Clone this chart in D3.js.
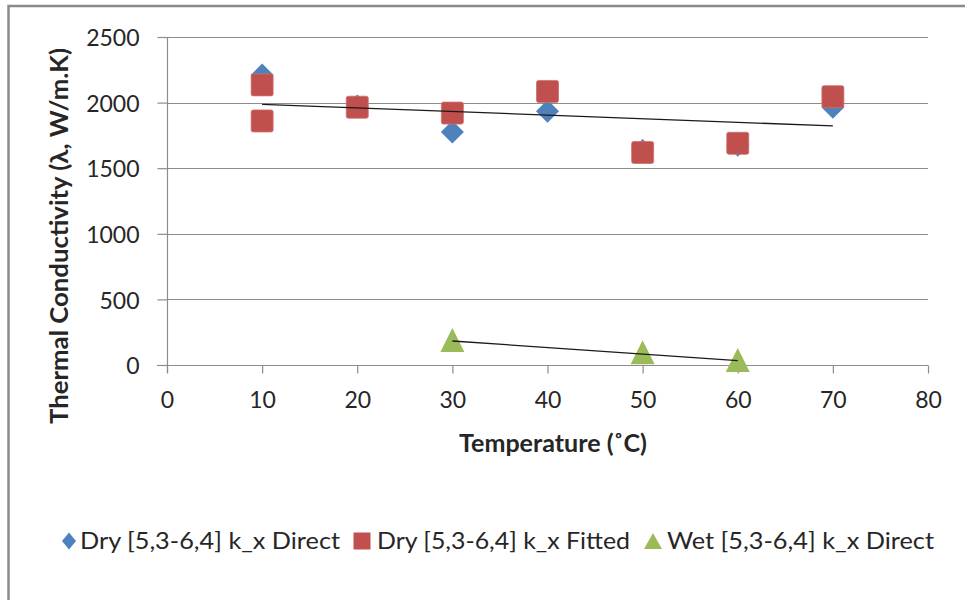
<!DOCTYPE html>
<html>
<head>
<meta charset="utf-8">
<script src="https://cdn.jsdelivr.net/npm/d3@7"></script>
<style>
  html, body { margin: 0; padding: 0; background: #fff; }
  svg { display: block; }
  text { font-family: Lato, "Open Sans", "Noto Sans", sans-serif; fill: #262626; }
</style>
</head>
<body>
<svg id="chart" width="965" height="600"></svg>
<script>
// Temperatures (°C) and thermal conductivity readings
const dryDirectTemps = [10, 20, 30, 40, 50, 60, 70];
const dryDirect = [2210, 1975, 1775, 1935, 1635, 1675, 1965];

const dryFittedTemps = [10, 10, 20, 30, 40, 50, 60, 70];
const dryFitted = [2135, 1860, 1965, 1920, 2085, 1620, 1690, 2045];

const wetDirectTemps = [30, 50, 60];
const wetDirect = [190, 97, 38];

// Linear trend lines (end points)
const dryTrendTemps = [10, 70];
const dryTrend = [1987, 1822];
const wetTrendTemps = [30, 60];
const wetTrend = [183, 33];

// Axis ticks
const xTicks = [0, 10, 20, 30, 40, 50, 60, 70, 80];
const yTicks = [0, 500, 1000, 1500, 2000, 2500];

const seriesNames = [
  "Dry [5,3-6,4] k_x Direct",
  "Dry [5,3-6,4] k_x Fitted",
  "Wet [5,3-6,4] k_x Direct"
];
const colors = ["#4F81BD", "#C0504D", "#9BBB59"];

const svg = d3.select("#chart");

// outer chart frame
svg.append("rect")
  .attr("x", 8.5).attr("y", 6)
  .attr("width", 980).attr("height", 620)
  .attr("fill", "#fff")
  .attr("stroke", "#8a8a8a")
  .attr("stroke-width", 2.5);

const x = d3.scaleLinear().domain([0, 80]).range([167, 928]);
const y = d3.scaleLinear().domain([0, 2500]).range([365, 37]);

const gridColor = "#8c8c8c";

// horizontal gridlines
svg.append("g")
  .selectAll("line")
  .data(yTicks.filter(d => d > 0))
  .join("line")
  .attr("x1", x(0)).attr("x2", x(80))
  .attr("y1", d => Math.round(y(d)) + 0.5)
  .attr("y2", d => Math.round(y(d)) + 0.5)
  .attr("stroke", gridColor)
  .attr("stroke-width", 1.2);

// y axis
const yAxis = d3.axisLeft(y).tickValues(yTicks).tickSize(10).tickPadding(18)
  .tickFormat(d3.format("d"));
const gy = svg.append("g")
  .attr("transform", `translate(${x(0) + 0.5},0)`)
  .call(yAxis);
gy.select(".domain").remove();
gy.append("line")
  .attr("x1", 0).attr("x2", 0)
  .attr("y1", y(2500)).attr("y2", y(0) + 8)
  .attr("stroke", gridColor).attr("stroke-width", 1.2);
gy.selectAll(".tick line").attr("stroke", gridColor).attr("stroke-width", 1.2);
gy.selectAll(".tick text")
  .attr("font-size", 23)
  .attr("dy", "0.38em")
  .style("font-family", "Lato, sans-serif")
  .attr("fill", "#262626");

// x axis
const xAxis = d3.axisBottom(x).tickValues(xTicks).tickSize(8).tickPadding(18)
  .tickFormat(d3.format("d"));
const gx = svg.append("g")
  .attr("transform", `translate(0,${Math.round(y(0)) + 0.5})`)
  .call(xAxis);
gx.select(".domain").remove();
gx.append("line")
  .attr("x1", x(0) - 10).attr("x2", x(80))
  .attr("y1", 0).attr("y2", 0)
  .attr("stroke", gridColor).attr("stroke-width", 1.2);
gx.selectAll(".tick line").attr("stroke", gridColor).attr("stroke-width", 1.2);
gx.selectAll(".tick text")
  .attr("font-size", 23)
  .attr("dy", "0.71em")
  .style("font-family", "Lato, sans-serif")
  .attr("fill", "#262626");

// axis titles
svg.append("text")
  .attr("x", 553).attr("y", 452)
  .attr("text-anchor", "middle")
  .attr("font-size", 24).attr("font-weight", "bold")
  .attr("textLength", 188).attr("lengthAdjust", "spacingAndGlyphs")
  .text("Temperature (˚C)");

svg.append("text")
  .attr("transform", "translate(68,236) rotate(-90)")
  .attr("text-anchor", "middle")
  .attr("font-size", 24).attr("font-weight", "bold")
  .attr("textLength", 376).attr("lengthAdjust", "spacingAndGlyphs")
  .text("Thermal Conductivity (λ, W/m.K)");

// marker shapes
function diamond(hw, hh) {
  return `M0,${-hh}L${hw},0L0,${hh}L${-hw},0Z`;
}
function square(h, r) {
  return `M${-h + r},${-h}H${h - r}Q${h},${-h} ${h},${-h + r}V${h - r}Q${h},${h} ${h - r},${h}H${-h + r}Q${-h},${h} ${-h},${h - r}V${-h + r}Q${-h},${-h} ${-h + r},${-h}Z`;
}
function triangle(hw, hh) {
  return `M0,${-hh}L${hw},${hh}L${-hw},${hh}Z`;
}

const pts = (xs, ys) => xs.map((t, i) => ({ t, v: ys[i] }));

// Dry direct – diamonds
svg.append("g").selectAll("path")
  .data(pts(dryDirectTemps, dryDirect))
  .join("path")
  .attr("transform", d => `translate(${x(d.t)},${y(d.v)})`)
  .attr("d", diamond(11.5, 11.5))
  .attr("fill", colors[0]);

// Dry fitted – squares
svg.append("g").selectAll("path")
  .data(pts(dryFittedTemps, dryFitted))
  .join("path")
  .attr("transform", d => `translate(${x(d.t)},${y(d.v)})`)
  .attr("d", square(11, 2))
  .attr("fill", colors[1])
  .attr("stroke", "#cf6f6c")
  .attr("stroke-width", 0.8);

// Wet direct – triangles
svg.append("g").selectAll("path")
  .data(pts(wetDirectTemps, wetDirect))
  .join("path")
  .attr("transform", d => `translate(${x(d.t)},${y(d.v)})`)
  .attr("d", triangle(12, 12))
  .attr("fill", colors[2]);

// trend lines
const line = d3.line().x(d => x(d.t)).y(d => y(d.v));
[pts(dryTrendTemps, dryTrend), pts(wetTrendTemps, wetTrend)].forEach(p => {
  svg.append("path")
    .attr("d", line(p))
    .attr("fill", "none")
    .attr("stroke", "#1a1a1a")
    .attr("stroke-width", 1.3);
});

// legend
const legendY = 541;
const legendItems = [
  { mx: 69, tx: 80, len: 260, shape: diamond(7, 8.5) },
  { mx: 362, tx: 377, len: 253, shape: square(8.5, 0) },
  { mx: 653, tx: 667, len: 267, shape: triangle(9, 8) }
];
const lg = svg.append("g");
legendItems.forEach((it, i) => {
  lg.append("path")
    .attr("transform", `translate(${it.mx},${legendY})`)
    .attr("d", it.shape)
    .attr("fill", colors[i]);
  lg.append("text")
    .attr("x", it.tx).attr("y", legendY + 8)
    .attr("font-size", 24)
    .attr("textLength", it.len).attr("lengthAdjust", "spacingAndGlyphs")
    .text(seriesNames[i]);
});
</script>
</body>
</html>
